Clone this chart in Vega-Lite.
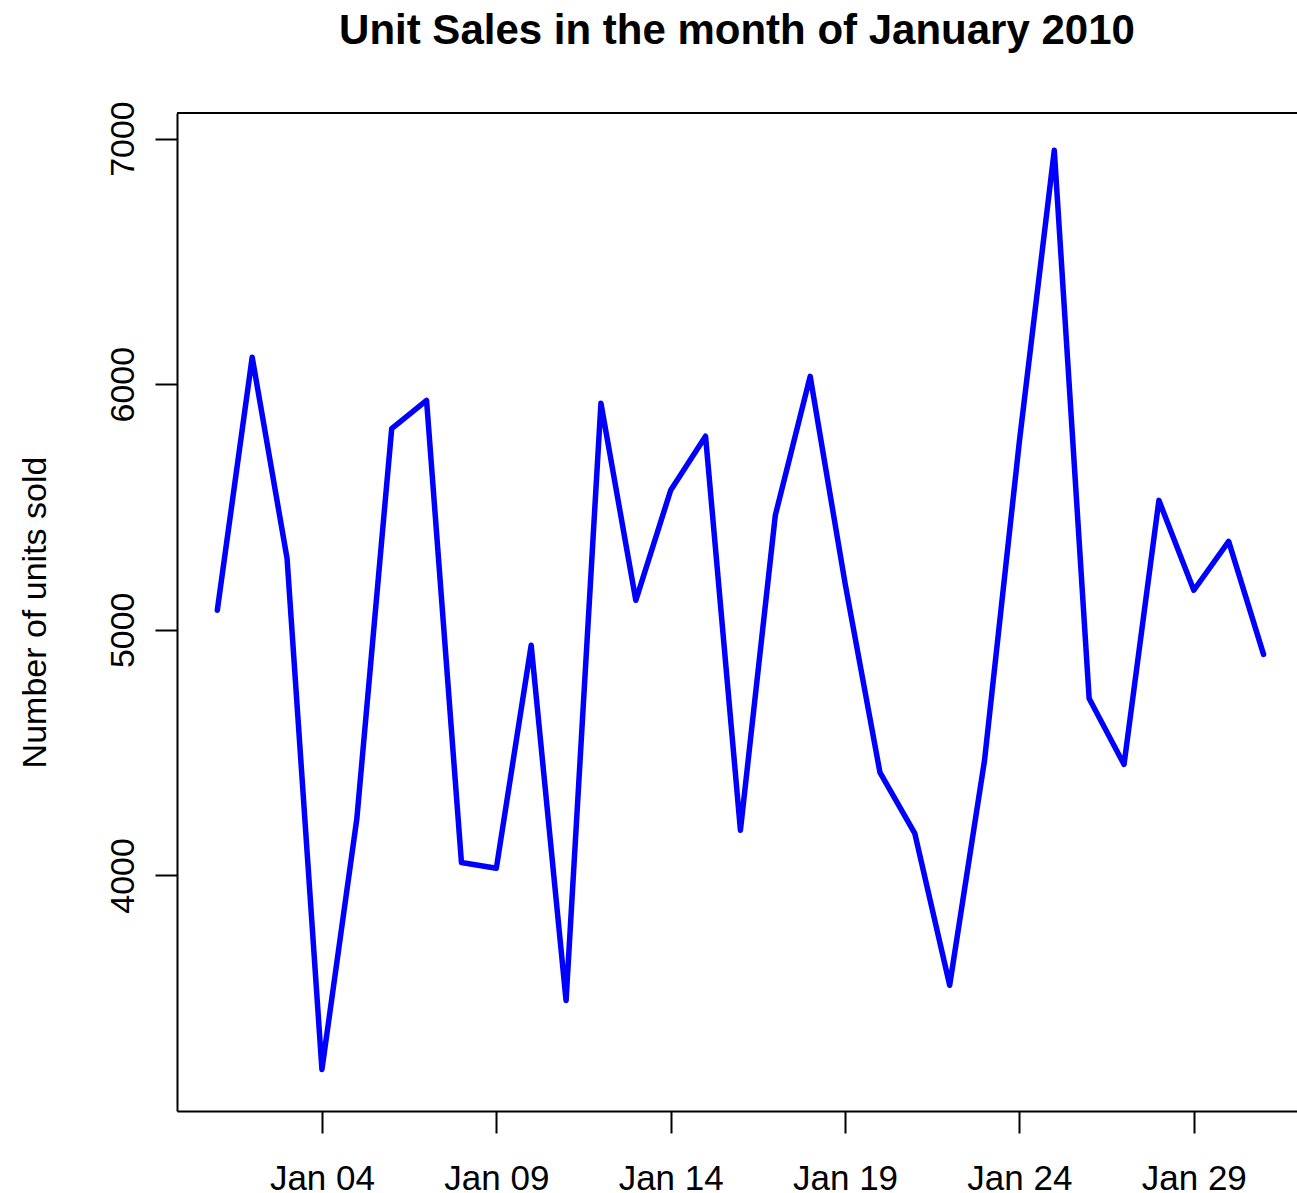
{
  "$schema": "https://vega.github.io/schema/vega-lite/v6.json",
  "autosize": "none",
  "padding": {"left": 177, "top": 113, "right": 0, "bottom": 82},
  "width": 1120,
  "height": 998,
  "background": "white",
  "title": {
    "text": "Unit Sales in the month of January 2010",
    "font": "Liberation Sans",
    "fontSize": 42,
    "fontWeight": "bold",
    "color": "black",
    "anchor": "middle",
    "frame": "group",
    "offset": 48
  },
  "config": {
    "view": {"stroke": null},
    "axis": {
      "grid": false,
      "domainColor": "black",
      "domainWidth": 2,
      "tickColor": "black",
      "tickWidth": 2,
      "tickSize": 22,
      "labelFont": "Liberation Sans",
      "labelFontSize": 34,
      "labelColor": "black",
      "titleFont": "Liberation Sans",
      "titleFontSize": 34,
      "titleFontWeight": "normal",
      "titleColor": "black"
    }
  },
  "data": {
    "values": [
      {"date": "2010-01-01", "units": 5080},
      {"date": "2010-01-02", "units": 6110},
      {"date": "2010-01-03", "units": 5290},
      {"date": "2010-01-04", "units": 3210},
      {"date": "2010-01-05", "units": 4230},
      {"date": "2010-01-06", "units": 5819},
      {"date": "2010-01-07", "units": 5934},
      {"date": "2010-01-08", "units": 4053},
      {"date": "2010-01-09", "units": 4029},
      {"date": "2010-01-10", "units": 4937},
      {"date": "2010-01-11", "units": 3491},
      {"date": "2010-01-12", "units": 5922},
      {"date": "2010-01-13", "units": 5120},
      {"date": "2010-01-14", "units": 5568},
      {"date": "2010-01-15", "units": 5788},
      {"date": "2010-01-16", "units": 4184},
      {"date": "2010-01-17", "units": 5466},
      {"date": "2010-01-18", "units": 6032},
      {"date": "2010-01-19", "units": 5190},
      {"date": "2010-01-20", "units": 4420},
      {"date": "2010-01-21", "units": 4171},
      {"date": "2010-01-22", "units": 3553},
      {"date": "2010-01-23", "units": 4469},
      {"date": "2010-01-24", "units": 5768},
      {"date": "2010-01-25", "units": 6952},
      {"date": "2010-01-26", "units": 4720},
      {"date": "2010-01-27", "units": 4452},
      {"date": "2010-01-28", "units": 5527},
      {"date": "2010-01-29", "units": 5161},
      {"date": "2010-01-30", "units": 5360},
      {"date": "2010-01-31", "units": 4900}
    ]
  },
  "encoding": {
    "x": {
      "field": "date",
      "type": "temporal",
      "title": null,
      "scale": {
        "type": "utc",
        "nice": false,
        "domain": [
          {"year": 2009, "month": 12, "date": 30, "hours": 20, "minutes": 15, "utc": true},
          {"year": 2010, "month": 1, "date": 31, "hours": 23, "minutes": 2, "utc": true}
        ]
      },
      "axis": {
        "format": "%b %d",
        "values": [
          {"year": 2010, "month": 1, "date": 4, "utc": true},
          {"year": 2010, "month": 1, "date": 9, "utc": true},
          {"year": 2010, "month": 1, "date": 14, "utc": true},
          {"year": 2010, "month": 1, "date": 19, "utc": true},
          {"year": 2010, "month": 1, "date": 24, "utc": true},
          {"year": 2010, "month": 1, "date": 29, "utc": true}
        ],
        "labelFontSize": 35,
        "labelBaseline": "alphabetic",
        "labelPadding": 56,
        "labelAlign": "center",
        "labelFlush": false,
        "labelOverlap": false
      }
    },
    "y": {
      "field": "units",
      "type": "quantitative",
      "title": "Number of units sold",
      "scale": {"domain": [3041, 7104], "nice": false, "zero": false},
      "axis": {
        "values": [4000, 5000, 6000, 7000],
        "format": "d",
        "labelAngle": -90,
        "labelAlign": "center",
        "labelBaseline": "alphabetic",
        "labelPadding": 22,
        "labelFlush": false,
        "labelOverlap": false,
        "titleBaseline": "alphabetic",
        "titlePadding": 61
      }
    }
  },
  "layer": [
    {
      "mark": {"type": "line", "color": "#0000ff", "strokeWidth": 5.5, "strokeJoin": "round", "strokeCap": "round"}
    },
    {
      "mark": {"type": "rule", "color": "black", "strokeWidth": 2},
      "encoding": {"x": null, "y": {"datum": 7104, "type": "quantitative"}}
    }
  ]
}
